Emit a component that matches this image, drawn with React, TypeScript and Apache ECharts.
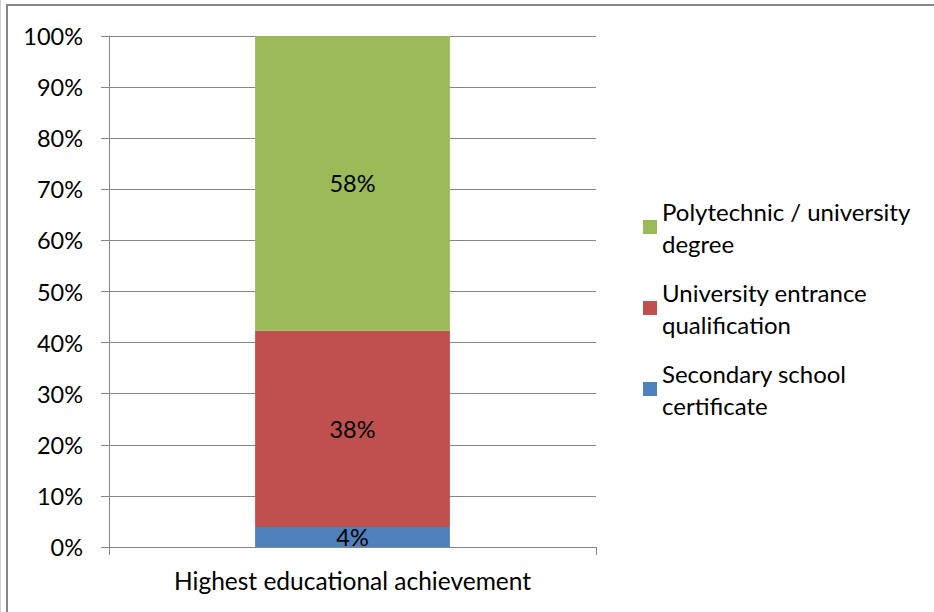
import React, { useEffect, useRef } from "react";
import * as echarts from "echarts";

const categories = ["Highest educational achievement"];
const seriesNames = [
  "Secondary school certificate",
  "University entrance qualification",
  "Polytechnic / university degree",
];
const legendLabels = [
  "Polytechnic / university\ndegree",
  "University entrance\nqualification",
  "Secondary school\ncertificate",
];
const secondary = [3.9];
const entrance = [38.4];
const degree = [57.7];
const seriesColors = ["#4F81BD", "#C0504D", "#9BBB59"];
const yTicks = [0, 10, 20, 30, 40, 50, 60, 70, 80, 90, 100];

const FONT = "Lato, 'Open Sans', sans-serif";

export default function App() {
  const ref = useRef<HTMLDivElement>(null);
  useEffect(() => {
    if (!ref.current) return;
    const chart = echarts.init(ref.current, null, { renderer: "svg" });
    const values = [secondary, entrance, degree];
    const legendMap: Record<string, string> = {};
    seriesNames.forEach((n, i) => (legendMap[n] = legendLabels[2 - i]));
    chart.setOption({
      animation: false,
      textStyle: { fontFamily: FONT },
      grid: { left: 109, right: 338, top: 36, bottom: 65 },
      legend: {
        orient: "vertical",
        left: 638,
        top: 174,
        itemWidth: 14,
        itemHeight: 14,
        itemGap: -15,
        itemTextGap: 6,
        icon: "rect",
        data: [seriesNames[2], seriesNames[1], seriesNames[0]],
        formatter: (n: string) => legendMap[n],
        textStyle: {
          fontFamily: FONT,
          fontSize: 24,
          color: "#000",
          lineHeight: 32,
          padding: [32, 0, 0, 0],
        },
      },
      xAxis: {
        type: "category",
        data: categories,
        axisLine: { show: true, lineStyle: { color: "#868686", width: 1 } },
        axisTick: { show: true, length: 8, lineStyle: { color: "#868686" } },
        axisLabel: { fontSize: 24.5, color: "#000", margin: 21, fontFamily: FONT },
      },
      yAxis: {
        type: "value",
        min: 0,
        max: 100,
        interval: 10,
        axisLine: { show: true, lineStyle: { color: "#868686", width: 1 } },
        axisTick: { show: true, length: 8, lineStyle: { color: "#868686" } },
        axisLabel: {
          fontSize: 23.5,
          color: "#000",
          margin: 26,
          fontFamily: FONT,
          formatter: (v: number) => (yTicks.includes(v) ? v + "%" : ""),
        },
        splitLine: { show: true, lineStyle: { color: "#868686", width: 1 } },
      },
      series: seriesNames.map((name, i) => ({
        name,
        type: "bar",
        stack: "total",
        barWidth: "40%",
        data: values[i],
        itemStyle: { color: seriesColors[i] },
        label: {
          show: true,
          position: "inside",
          color: "#000",
          fontSize: 23.5,
          fontFamily: FONT,
          formatter: (p: any) => Math.round(p.value) + "%",
        },
      })),
      graphic: [
        {
          type: "rect",
          shape: { x: 7, y: 5, width: 1000, height: 1000 },
          style: { fill: "none", stroke: "#868686", lineWidth: 2 },
          silent: true,
        },
        {
          type: "line",
          shape: { x1: 0.5, y1: 0, x2: 0.5, y2: 612 },
          style: { stroke: "#d0d0d0", lineWidth: 1 },
          silent: true,
        },
      ],
    });
    return () => chart.dispose();
  }, []);
  return (
    <div
      ref={ref}
      style={{ position: "absolute", left: 0, top: 0, width: 934, height: 612, background: "#fff" }}
    />
  );
}
